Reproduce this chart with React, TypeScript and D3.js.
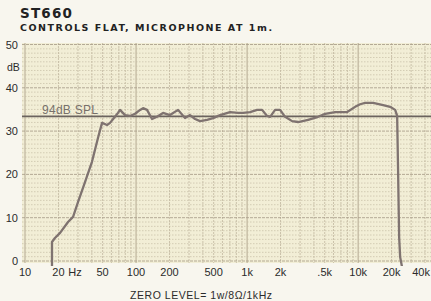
import React, { useEffect, useRef } from "react";
import * as d3 from "d3";

const freqs = [17.5, 17.5, 18.6, 20.7, 24.4, 27.1, 30.0, 34.7, 40.1, 45.4, 49.4, 54.8, 58.3, 64.6, 68.8,
  71.7, 79.6, 88.3, 98, 108.7, 115.6, 125.6, 139.3, 154.6, 175, 202, 239, 276, 306, 340, 377, 436, 494, 571,
  703, 830, 920, 1064, 1231, 1365, 1514, 1611, 1787, 1983, 2199, 2543, 2879, 3546, 4363, 5045, 6209, 7966,
  9397, 10420, 11560, 13650, 16800, 19400, 21540, 22450, 22920, 23400, 23900, 24900];
const levels = [-1.5, 4.4, 5.3, 6.5, 9.0, 10.2, 13.6, 18.2, 22.9, 28.4, 31.9, 31.4, 31.9, 33.3, 34.2,
  34.9, 33.7, 33.5, 34.0, 34.9, 35.3, 34.9, 32.8, 33.3, 34.2, 33.7, 34.9, 33.0, 33.7, 32.8, 32.3, 32.6, 33.0, 33.7,
  34.4, 34.2, 34.2, 34.4, 34.9, 34.9, 33.5, 33.3, 34.9, 34.9, 33.3, 32.3, 32.1, 32.6, 33.3, 34.0, 34.4, 34.4,
  35.6, 36.2, 36.5, 36.5, 36.0, 35.6, 34.9, 33.5, 20, 5.5, 0.9, -1.5];
const refLevel = 33.4;
const xTicks = [10, 20, 50, 100, 200, 500, 1000, 2000, 5000, 10000, 20000, 40000];
const xTickLabels = ["10", "20", "50", "100", "200", "500", "1k", "2k", ".5k", "10k", "20k", "40k"];
const yTicks = [0, 10, 20, 30, 40, 50];

const W = 431, H = 301;
const L = 22, R = 431, T = 43, B = 263;

export default function App() {
  const ref = useRef<SVGSVGElement>(null);
  useEffect(() => {
    document.body.style.margin = "0";
    const svg = d3.select(ref.current);
    svg.selectAll("*").remove();
    const x = d3.scaleLog().domain([10, 40000]).range([25, 425]);
    const y = d3.scaleLinear().domain([0, 50]).range([261, 44.5]);
    const font = "Liberation Sans, Arial, sans-serif";
    const tfont = "DejaVu Sans, Verdana, sans-serif";

    svg.append("rect").attr("width", W).attr("height", H).attr("fill", "#f8f6ee");
    svg.append("rect").attr("x", L).attr("y", T).attr("width", R - L).attr("height", B - T).attr("fill", "#f2eed6");

    const g = svg.append("g");
    const vlines: number[] = [];
    for (let p = 0; p <= 4; p++) for (let k = 1; k <= 9; k++) {
      const f = k * Math.pow(10, p);
      const px = x(f);
      if (px > L && px < R) vlines.push(f);
    }
    const major = [10, 100, 1000, 10000];
    g.selectAll("line.v").data(vlines).enter().append("line")
      .attr("x1", (d) => x(d)).attr("x2", (d) => x(d)).attr("y1", T).attr("y2", B)
      .attr("stroke", (d) => (major.includes(d) ? "#b4a993" : "#cbc2aa"))
      .attr("stroke-width", 1)
      .attr("stroke-dasharray", (d) => (major.includes(d) ? null : "2,1"));
    const hl = d3.range(0, 51, 1);
    g.selectAll("line.h").data(hl).enter().append("line")
      .attr("x1", L).attr("x2", R).attr("y1", (d) => y(d)).attr("y2", (d) => y(d))
      .attr("stroke", (d) => (d % 10 === 0 ? "#ada28d" : "#c6bda5"))
      .attr("stroke-width", (d) => (d % 10 === 0 ? 0.9 : 0.7))
      .attr("stroke-dasharray", (d) => (d % 10 === 0 ? "3,1" : "1.5,1.5"));

    g.append("line").attr("x1", L).attr("x2", R).attr("y1", y(refLevel)).attr("y2", y(refLevel))
      .attr("stroke", "#6b635e").attr("stroke-width", 1.8);
    g.append("text").attr("x", 42).attr("y", y(refLevel) - 2.5).text("94dB SPL")
      .attr("font-family", font).attr("font-size", 12).attr("textLength", 56).attr("fill", "#77706a");

    svg.append("clipPath").attr("id", "clp").append("rect").attr("x", L).attr("y", T).attr("width", R - L).attr("height", B - T + 3);
    const pts = freqs.map((f, i) => [f, levels[i]] as [number, number]);
    const line = d3.line<[number, number]>().x((d) => x(d[0])).y((d) => y(d[1])).curve(d3.curveLinear);
    svg.append("path").attr("d", line(pts) as string)
      .attr("clip-path", "url(#clp)")
      .attr("fill", "none").attr("stroke", "#7f7370").attr("stroke-width", 2.3).attr("stroke-linejoin", "round");

    svg.selectAll("text.yl").data(yTicks).enter().append("text")
      .attr("x", 18).attr("y", (d) => y(d) + 4).attr("text-anchor", "end")
      .attr("font-family", font).attr("font-size", 11).attr("fill", "#2b2b2b").text((d) => String(d));
    svg.append("text").attr("x", 7).attr("y", 71).text("dB").attr("font-family", font).attr("font-size", 10.5).attr("fill", "#2b2b2b");

    svg.selectAll("text.xl").data(xTicks).enter().append("text")
      .attr("x", (d) => (d === 40000 ? 430 : x(d))).attr("y", 276)
      .attr("text-anchor", (d) => (d === 40000 ? "end" : "middle"))
      .attr("font-family", font).attr("font-size", 11).attr("fill", "#2b2b2b").text((d, i) => xTickLabels[i]);
    svg.append("text").attr("x", 75).attr("y", 276).attr("text-anchor", "middle").text("Hz")
      .attr("font-family", font).attr("font-size", 11).attr("fill", "#2b2b2b");

    svg.append("text").attr("x", 20).attr("y", 18).text("ST660").attr("font-family", tfont)
      .attr("font-weight", "bold").attr("font-size", 13.5).attr("textLength", 52).attr("fill", "#222");
    svg.append("text").attr("x", 20).attr("y", 31).text("CONTROLS FLAT, MICROPHONE AT 1m.").attr("font-family", tfont)
      .attr("font-weight", "bold").attr("font-size", 9.5).attr("textLength", 252).attr("fill", "#222");
    svg.append("text").attr("x", 130).attr("y", 299).text("ZERO LEVEL= 1w/8Ω/1kHz").attr("font-family", font)
      .attr("font-size", 10.5).attr("textLength", 142).attr("fill", "#2b2b2b");
  }, []);
  return (
    <div style={{ position: "absolute", left: 0, top: 0 }}>
      <svg ref={ref} width={W} height={H} style={{ display: "block" }} />
    </div>
  );
}
